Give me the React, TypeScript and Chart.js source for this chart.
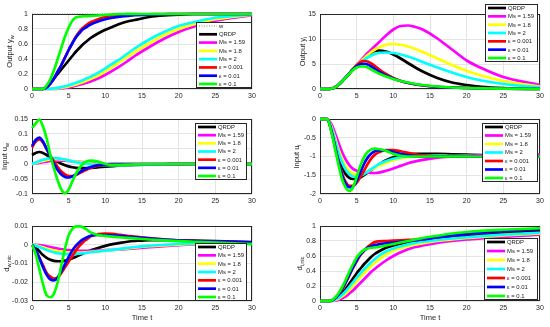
import React, { useEffect, useRef } from "react";
import { Chart, registerables } from "chart.js";

Chart.register(...registerables);

const FONT = "'Liberation Sans', Arial, Helvetica, sans-serif";

// ---------- data ----------
const T = [0, 0.5, 1, 1.5, 2, 2.5, 3, 3.5, 4, 4.5, 5, 5.5, 6, 6.5, 7, 7.5, 8, 9, 10, 11, 12, 13, 14, 16, 18, 20, 22, 25, 30];
const X_TICKS = [0, 5, 10, 15, 20, 25, 30];
const W_T = [0, 30];
const W_REF = [1, 1];

const LABELS = ["QRDP", "Ms = 1.59", "Ms = 1.8", "Ms = 2", "ε = 0.001", "ε = 0.01", "ε = 0.1"];
const COLORS = ["#000000", "#ff00ff", "#ffff00", "#00ffff", "#ff0000", "#0000ff", "#00ff00"];

// Output y_w
const YW_QRDP = [0, 0, 0, 0, 0.03, 0.08, 0.14, 0.2, 0.26, 0.32, 0.38, 0.44, 0.5, 0.55, 0.6, 0.64, 0.68, 0.74, 0.79, 0.83, 0.87, 0.9, 0.92, 0.96, 0.98, 0.99, 1, 1, 1];
const YW_MS159 = [0, 0, 0, 0, 0, 0, 0, 0.003, 0.008, 0.014, 0.022, 0.032, 0.043, 0.056, 0.07, 0.085, 0.1, 0.14, 0.19, 0.245, 0.305, 0.37, 0.44, 0.56, 0.67, 0.76, 0.83, 0.91, 0.985];
const YW_MS18 = [0, 0, 0, 0, 0, 0, 0.003, 0.008, 0.015, 0.024, 0.035, 0.048, 0.062, 0.078, 0.095, 0.115, 0.135, 0.18, 0.235, 0.3, 0.36, 0.43, 0.49, 0.61, 0.72, 0.8, 0.86, 0.93, 0.99];
const YW_MS2 = [0, 0, 0, 0, 0, 0.003, 0.008, 0.015, 0.025, 0.037, 0.05, 0.065, 0.082, 0.1, 0.12, 0.142, 0.165, 0.215, 0.275, 0.34, 0.4, 0.47, 0.54, 0.66, 0.76, 0.84, 0.89, 0.95, 0.995];
const YW_E001 = [0, 0, 0, 0, 0.02, 0.07, 0.14, 0.23, 0.32, 0.42, 0.52, 0.61, 0.7, 0.77, 0.82, 0.86, 0.89, 0.93, 0.96, 0.97, 0.98, 0.985, 0.99, 0.995, 1, 1, 1, 1, 1];
const YW_E01 = [0, 0, 0, 0, 0.02, 0.07, 0.14, 0.23, 0.32, 0.42, 0.52, 0.61, 0.69, 0.75, 0.8, 0.83, 0.86, 0.9, 0.93, 0.95, 0.965, 0.975, 0.985, 0.99, 0.995, 1, 1, 1, 1];
const YW_E1 = [0, 0, 0, 0, 0.05, 0.13, 0.25, 0.4, 0.55, 0.7, 0.82, 0.91, 0.955, 0.965, 0.97, 0.972, 0.975, 0.98, 0.99, 0.995, 1, 1.003, 1.003, 1, 1, 1, 1, 1, 1];

// Output y_i
const YI_QRDP = [0, 0, 0, 0.05, 0.3, 0.8, 1.5, 2.3, 3.1, 4.0, 4.8, 5.5, 6.2, 6.8, 7.3, 7.6, 7.7, 7.5, 6.9, 6.1, 5.2, 4.3, 3.5, 2.2, 1.3, 0.8, 0.45, 0.2, 0.05];
const YI_MS159 = [0, 0, 0, 0.05, 0.3, 0.8, 1.5, 2.3, 3.1, 4.0, 4.8, 5.6, 6.4, 7.2, 7.9, 8.6, 9.3, 10.7, 11.9, 12.6, 12.7, 12.4, 11.9, 10.1, 7.9, 5.7, 4.2, 2.4, 0.8];
const YI_MS18 = [0, 0, 0, 0.05, 0.3, 0.8, 1.5, 2.3, 3.1, 4.0, 4.8, 5.5, 6.1, 6.8, 7.4, 7.9, 8.3, 8.85, 9.0, 8.85, 8.5, 8.0, 7.4, 6.1, 4.8, 3.6, 2.7, 1.6, 0.45];
const YI_MS2 = [0, 0, 0, 0.05, 0.3, 0.8, 1.5, 2.3, 3.1, 3.95, 4.7, 5.3, 5.8, 6.3, 6.7, 7.0, 7.2, 7.3, 7.2, 6.9, 6.5, 6.0, 5.4, 4.3, 3.3, 2.4, 1.7, 1.0, 0.3];
const YI_E001 = [0, 0, 0, 0.05, 0.3, 0.8, 1.5, 2.3, 3.1, 3.95, 4.75, 5.35, 5.6, 5.5, 5.1, 4.6, 4.0, 3.0, 2.2, 1.6, 1.2, 0.9, 0.7, 0.45, 0.3, 0.2, 0.12, 0.06, 0.02];
const YI_E01 = [0, 0, 0, 0.05, 0.3, 0.8, 1.5, 2.3, 3.1, 3.9, 4.55, 4.95, 5.05, 4.9, 4.5, 4.0, 3.5, 2.7, 2.1, 1.6, 1.25, 0.95, 0.75, 0.45, 0.3, 0.2, 0.12, 0.06, 0.02];
const YI_E1 = [0, 0, 0, 0.05, 0.3, 0.8, 1.5, 2.3, 3.05, 3.8, 4.3, 4.5, 4.5, 4.3, 3.9, 3.5, 3.1, 2.5, 2.0, 1.6, 1.3, 1.0, 0.8, 0.5, 0.3, 0.2, 0.12, 0.06, 0.02];

// Input u_w
const UW_QRDP = [0.03, 0.037, 0.04, 0.037, 0.03, 0.022, 0.014, 0.007, 0.001, -0.004, -0.008, -0.011, -0.013, -0.014, -0.014, -0.014, -0.013, -0.011, -0.009, -0.007, -0.005, -0.004, -0.003, -0.002, -0.001, 0, 0, 0, 0];
const UW_MS159 = [0, 0.002, 0.004, 0.006, 0.008, 0.01, 0.011, 0.011, 0.011, 0.011, 0.01, 0.009, 0.008, 0.007, 0.006, 0.005, 0.004, 0.002, 0, -0.001, -0.002, -0.002, -0.002, -0.002, -0.001, -0.001, 0, 0, 0];
const UW_MS18 = [0, 0.003, 0.007, 0.01, 0.013, 0.015, 0.016, 0.016, 0.015, 0.014, 0.012, 0.01, 0.008, 0.006, 0.004, 0.003, 0.001, -0.001, -0.002, -0.003, -0.003, -0.003, -0.002, -0.002, -0.001, 0, 0, 0, 0];
const UW_MS2 = [0, 0.005, 0.01, 0.014, 0.017, 0.019, 0.02, 0.019, 0.017, 0.015, 0.012, 0.009, 0.006, 0.004, 0.002, 0, -0.001, -0.003, -0.004, -0.004, -0.004, -0.003, -0.003, -0.002, -0.001, 0, 0, 0, 0];
const UW_E001 = [0.055, 0.075, 0.082, 0.072, 0.05, 0.028, 0.008, -0.01, -0.025, -0.035, -0.04, -0.04, -0.037, -0.03, -0.024, -0.018, -0.013, -0.006, -0.002, 0, 0, 0, 0, 0, 0, 0, 0, 0, 0];
const UW_E01 = [0.06, 0.08, 0.088, 0.075, 0.05, 0.025, 0, -0.02, -0.035, -0.043, -0.045, -0.042, -0.035, -0.027, -0.02, -0.014, -0.01, -0.004, -0.001, 0, 0, 0, 0, 0, 0, 0, 0, 0, 0];
const UW_E1 = [0.12, 0.135, 0.148, 0.125, 0.085, 0.03, -0.015, -0.055, -0.085, -0.097, -0.085, -0.058, -0.032, -0.012, 0.002, 0.009, 0.011, 0.008, 0, -0.003, -0.003, -0.002, -0.001, 0, 0, 0, 0, 0, 0];

// Input u_i
const UI_QRDP = [0, 0, 0, -0.25, -0.6, -0.98, -1.28, -1.47, -1.57, -1.6, -1.6, -1.56, -1.5, -1.43, -1.36, -1.29, -1.22, -1.1, -1.02, -0.97, -0.94, -0.93, -0.93, -0.93, -0.94, -0.95, -0.96, -0.98, -1];
const UI_MS159 = [0, 0, 0, -0.12, -0.35, -0.62, -0.88, -1.08, -1.23, -1.33, -1.38, -1.41, -1.42, -1.43, -1.44, -1.44, -1.43, -1.38, -1.32, -1.25, -1.18, -1.13, -1.09, -1.03, -1, -0.98, -0.97, -0.96, -0.95];
const UI_MS18 = [0, 0, 0, -0.18, -0.47, -0.8, -1.06, -1.26, -1.39, -1.46, -1.48, -1.47, -1.44, -1.4, -1.35, -1.3, -1.25, -1.17, -1.1, -1.05, -1.02, -1, -0.99, -0.98, -0.99, -0.99, -1, -1, -1];
const UI_MS2 = [0, 0, 0, -0.2, -0.52, -0.88, -1.15, -1.35, -1.47, -1.53, -1.55, -1.52, -1.47, -1.4, -1.33, -1.27, -1.21, -1.12, -1.06, -1.02, -1, -0.99, -0.98, -0.98, -0.99, -0.99, -1, -1, -1];
const UI_E001 = [0, 0, 0, -0.27, -0.68, -1.1, -1.45, -1.68, -1.78, -1.78, -1.7, -1.55, -1.38, -1.2, -1.05, -0.95, -0.89, -0.83, -0.83, -0.86, -0.9, -0.94, -0.97, -1, -1, -1, -1, -1, -1];
const UI_E01 = [0, 0, 0, -0.28, -0.7, -1.12, -1.5, -1.73, -1.82, -1.8, -1.65, -1.42, -1.2, -1.03, -0.92, -0.86, -0.84, -0.84, -0.88, -0.93, -0.97, -0.99, -1, -1, -1, -1, -1, -1, -1];
const UI_E1 = [0, 0, 0, -0.3, -0.75, -1.2, -1.6, -1.83, -1.92, -1.82, -1.55, -1.25, -1.02, -0.88, -0.81, -0.79, -0.8, -0.85, -0.93, -0.98, -1, -1, -1, -1, -1, -1, -1, -1, -1];

// d_w,nic
const DW_QRDP = [0, -0.0015, -0.0035, -0.0055, -0.007, -0.008, -0.0086, -0.0088, -0.0088, -0.0085, -0.008, -0.0072, -0.0064, -0.0055, -0.0046, -0.0038, -0.003, -0.0017, -0.0006, 0.0003, 0.001, 0.0016, 0.002, 0.0025, 0.0025, 0.0024, 0.0022, 0.0019, 0.0014];
const DW_MS159 = [0, 0, -0.0002, -0.0005, -0.0009, -0.0013, -0.0017, -0.0021, -0.0024, -0.0027, -0.0029, -0.003, -0.0031, -0.0032, -0.0032, -0.0032, -0.0032, -0.0031, -0.0029, -0.0027, -0.0025, -0.0022, -0.0019, -0.0013, -0.0007, -0.0002, 0.0002, 0.0005, 0.0009];
const DW_MS18 = [0, -0.0003, -0.0008, -0.0014, -0.002, -0.0026, -0.003, -0.0034, -0.0037, -0.004, -0.0041, -0.0042, -0.0042, -0.0042, -0.0041, -0.004, -0.0038, -0.0035, -0.0031, -0.0027, -0.0023, -0.0019, -0.0015, -0.0008, -0.0003, 0.0001, 0.0004, 0.0007, 0.001];
const DW_MS2 = [0, -0.0005, -0.0012, -0.002, -0.0028, -0.0035, -0.004, -0.0045, -0.0048, -0.005, -0.005, -0.005, -0.0049, -0.0047, -0.0045, -0.0043, -0.004, -0.0036, -0.0032, -0.0027, -0.0022, -0.0017, -0.0012, -0.0005, 0, 0.0004, 0.0007, 0.0009, 0.0011];
const DW_E001 = [0, -0.003, -0.007, -0.011, -0.015, -0.017, -0.018, -0.0175, -0.015, -0.012, -0.009, -0.006, -0.003, -0.0005, 0.0015, 0.003, 0.0045, 0.0057, 0.006, 0.0058, 0.0053, 0.0048, 0.0043, 0.0035, 0.0028, 0.0023, 0.002, 0.0016, 0.0012];
const DW_E01 = [0, -0.003, -0.007, -0.012, -0.016, -0.0185, -0.019, -0.0175, -0.014, -0.0105, -0.0065, -0.003, -0.0005, 0.0015, 0.003, 0.004, 0.0048, 0.0052, 0.0052, 0.005, 0.0047, 0.0044, 0.004, 0.0034, 0.0028, 0.0024, 0.002, 0.0017, 0.0013];
const DW_E1 = [0, -0.005, -0.013, -0.021, -0.027, -0.028, -0.026, -0.02, -0.011, -0.002, 0.005, 0.0085, 0.0098, 0.0098, 0.0092, 0.008, 0.0066, 0.0052, 0.0047, 0.0043, 0.004, 0.0037, 0.0034, 0.0028, 0.0023, 0.0019, 0.0016, 0.0012, 0.0003];

// d_i,nic
const DI_QRDP = [0, 0, 0, 0.002, 0.02, 0.05, 0.1, 0.16, 0.23, 0.3, 0.37, 0.43, 0.49, 0.54, 0.59, 0.63, 0.66, 0.71, 0.74, 0.765, 0.78, 0.795, 0.805, 0.825, 0.845, 0.865, 0.88, 0.905, 0.94];
const DI_MS159 = [0, 0, 0, 0, 0.005, 0.015, 0.035, 0.06, 0.1, 0.14, 0.19, 0.24, 0.29, 0.34, 0.39, 0.43, 0.47, 0.54, 0.6, 0.65, 0.69, 0.72, 0.74, 0.775, 0.8, 0.82, 0.835, 0.855, 0.885];
const DI_MS18 = [0, 0, 0, 0.001, 0.01, 0.03, 0.06, 0.1, 0.15, 0.2, 0.26, 0.32, 0.37, 0.42, 0.47, 0.51, 0.55, 0.62, 0.67, 0.705, 0.73, 0.755, 0.77, 0.8, 0.82, 0.84, 0.855, 0.875, 0.9];
const DI_MS2 = [0, 0, 0, 0.002, 0.015, 0.04, 0.08, 0.13, 0.19, 0.25, 0.31, 0.37, 0.42, 0.47, 0.52, 0.56, 0.6, 0.66, 0.7, 0.73, 0.755, 0.775, 0.79, 0.815, 0.835, 0.85, 0.865, 0.885, 0.91];
const DI_E001 = [0, 0, 0, 0.004, 0.03, 0.08, 0.15, 0.24, 0.34, 0.44, 0.53, 0.61, 0.67, 0.72, 0.76, 0.785, 0.795, 0.8, 0.805, 0.81, 0.815, 0.82, 0.83, 0.85, 0.87, 0.89, 0.91, 0.93, 0.96];
const DI_E01 = [0, 0, 0, 0.004, 0.03, 0.08, 0.16, 0.25, 0.35, 0.45, 0.54, 0.62, 0.67, 0.71, 0.73, 0.745, 0.755, 0.77, 0.78, 0.79, 0.8, 0.81, 0.82, 0.85, 0.87, 0.895, 0.91, 0.935, 0.96];
const DI_E1 = [0, 0, 0, 0.005, 0.04, 0.1, 0.18, 0.28, 0.39, 0.49, 0.58, 0.64, 0.68, 0.7, 0.71, 0.715, 0.72, 0.74, 0.76, 0.78, 0.8, 0.82, 0.84, 0.87, 0.9, 0.92, 0.935, 0.95, 0.97];

// y tick values
const TICKS_YW = [0, 0.2, 0.4, 0.6, 0.8, 1];
const TICKS_YI = [0, 5, 10, 15];
const TICKS_UW = [-0.1, -0.05, 0, 0.05, 0.1, 0.15];
const TICKS_UI = [-2, -1.5, -1, -0.5, 0];
const TICKS_DW = [-0.03, -0.02, -0.01, 0, 0.01];
const TICKS_DI = [0, 0.2, 0.4, 0.6, 0.8, 1];

// ---------- layout ----------
const LEFT_M = 32;
const TOP_M = 12;
const RIGHT_M = 8;

type Rect = { x: number; y: number; w: number; h: number };
type PanelCfg = {
  rect: Rect;
  yMin: number;
  yMax: number;
  yTicks: number[];
  title: [string, string];
  titleX: number;
  series: number[][];
  withRef: boolean;
  legend: Rect;
  xTitle: boolean;
  bottomH: number;
};

const PANELS: PanelCfg[] = [
  { rect: { x: 32, y: 14, w: 220, h: 75 }, yMin: 0, yMax: 1, yTicks: TICKS_YW, title: ["Output y", "w"], titleX: 10,
    series: [YW_QRDP, YW_MS159, YW_MS18, YW_MS2, YW_E001, YW_E01, YW_E1], withRef: true,
    legend: { x: 196, y: 22, w: 56, h: 66 }, xTitle: false, bottomH: 14 },
  { rect: { x: 320, y: 14, w: 220, h: 75 }, yMin: 0, yMax: 15, yTicks: TICKS_YI, title: ["Output y", "i"], titleX: 303,
    series: [YI_QRDP, YI_MS159, YI_MS18, YI_MS2, YI_E001, YI_E01, YI_E1], withRef: false,
    legend: { x: 485, y: 4, w: 53, h: 58 }, xTitle: false, bottomH: 14 },
  { rect: { x: 32, y: 119, w: 220, h: 75 }, yMin: -0.1, yMax: 0.15, yTicks: TICKS_UW, title: ["Input u", "w"], titleX: 5,
    series: [UW_QRDP, UW_MS159, UW_MS18, UW_MS2, UW_E001, UW_E01, UW_E1], withRef: false,
    legend: { x: 195, y: 123, w: 52, h: 57 }, xTitle: false, bottomH: 14 },
  { rect: { x: 320, y: 119, w: 220, h: 75 }, yMin: -2, yMax: 0, yTicks: TICKS_UI, title: ["Input u", "i"], titleX: 297,
    series: [UI_QRDP, UI_MS159, UI_MS18, UI_MS2, UI_E001, UI_E01, UI_E1], withRef: false,
    legend: { x: 482, y: 123, w: 56, h: 59 }, xTitle: false, bottomH: 14 },
  { rect: { x: 32, y: 226, w: 220, h: 75 }, yMin: -0.03, yMax: 0.01, yTicks: TICKS_DW, title: ["d", "w,nic"], titleX: 7,
    series: [DW_QRDP, DW_MS159, DW_MS18, DW_MS2, DW_E001, DW_E01, DW_E1], withRef: false,
    legend: { x: 195, y: 243, w: 52, h: 58 }, xTitle: true, bottomH: 24 },
  { rect: { x: 320, y: 226, w: 220, h: 75 }, yMin: 0, yMax: 1, yTicks: TICKS_DI, title: ["d", "i,nic"], titleX: 300,
    series: [DI_QRDP, DI_MS159, DI_MS18, DI_MS2, DI_E001, DI_E01, DI_E1], withRef: false,
    legend: { x: 484, y: 238, w: 54, h: 62 }, xTitle: true, bottomH: 24 },
];

function fmt(v: number) {
  return String(Math.round(v * 10000) / 10000);
}

function Panel({ cfg }: { cfg: PanelCfg }) {
  const ref = useRef<HTMLCanvasElement>(null);
  const W = cfg.rect.w + LEFT_M + RIGHT_M;
  const H = cfg.rect.h + TOP_M + cfg.bottomH;
  const ox = cfg.rect.x - LEFT_M;
  const oy = cfg.rect.y - TOP_M;

  useEffect(() => {
    const canvas = ref.current;
    if (!canvas) return;
    const n = cfg.series.length;
    const datasets: any[] = cfg.series.map((vals, i) => ({
      label: LABELS[i],
      data: T.map((t, j) => ({ x: t, y: vals[j] })),
      borderColor: COLORS[i],
      backgroundColor: COLORS[i],
      borderWidth: 2.7,
      pointRadius: 0,
      fill: false,
      cubicInterpolationMode: "monotone",
      clip: false,
      order: n - i + 1,
    }));
    const legendItems: { label: string; color: string; width: number; dash: number[] }[] = [];
    if (cfg.withRef) {
      datasets.push({
        label: "w",
        data: W_T.map((t, j) => ({ x: t, y: W_REF[j] })),
        borderColor: "#555555",
        borderWidth: 0.8,
        borderDash: [1, 1.5],
        pointRadius: 0,
        fill: false,
        clip: false,
        order: n + 5,
      });
      legendItems.push({ label: "w", color: "#666666", width: 0.8, dash: [1, 1.5] });
    }
    LABELS.forEach((l, i) => legendItems.push({ label: l, color: COLORS[i], width: 2.7, dash: [] }));

    const framePlugin = {
      id: "frame",
      beforeDatasetsDraw(chart: any) {
        const { ctx, chartArea: ca } = chart;
        ctx.save();
        ctx.strokeStyle = "#262626";
        ctx.lineWidth = 1;
        const l = Math.round(ca.left) + 0.5, t = Math.round(ca.top) + 0.5;
        const r = Math.round(ca.right) - 0.5, b = Math.round(ca.bottom) - 0.5;
        ctx.strokeRect(l, t, r - l, b - t);
        ctx.restore();
      },
    };

    const textPlugin = {
      id: "texts",
      afterDraw(chart: any) {
        const { ctx, chartArea: ca } = chart;
        // y title with subscript
        ctx.save();
        const cx = cfg.titleX - ox;
        const cy = (ca.top + ca.bottom) / 2;
        ctx.translate(cx, cy);
        ctx.rotate(-Math.PI / 2);
        ctx.fillStyle = "#262626";
        const fs = 7.5;
        const ss = 5.5;
        ctx.font = `${fs}px ${FONT}`;
        const mw = ctx.measureText(cfg.title[0]).width;
        ctx.font = `${ss}px ${FONT}`;
        const sw = ctx.measureText(cfg.title[1]).width;
        const start = -(mw + sw) / 2;
        ctx.textBaseline = "middle";
        ctx.textAlign = "left";
        ctx.font = `${fs}px ${FONT}`;
        ctx.fillText(cfg.title[0], start, 0);
        ctx.font = `${ss}px ${FONT}`;
        ctx.fillText(cfg.title[1], start + mw, 2.5);
        ctx.restore();

        if (cfg.xTitle) {
          ctx.save();
          ctx.fillStyle = "#262626";
          ctx.font = `${fs}px ${FONT}`;
          ctx.textAlign = "center";
          ctx.textBaseline = "middle";
          ctx.fillText("Time t", (ca.left + ca.right) / 2, ca.bottom + 17);
          ctx.restore();
        }

        // legend
        const lg = cfg.legend;
        const lx = Math.round(lg.x - ox);
        const ly = Math.round(lg.y - oy);
        ctx.save();
        ctx.fillStyle = "#ffffff";
        ctx.fillRect(lx, ly, lg.w, lg.h);
        ctx.strokeStyle = "#262626";
        ctx.lineWidth = 1;
        ctx.strokeRect(lx + 0.5, ly + 0.5, lg.w - 1, lg.h - 1);
        const pad = 4;
        const step = (lg.h - 2 * pad) / (legendItems.length - 1);
        ctx.font = `5.9px ${FONT}`;
        ctx.textBaseline = "middle";
        ctx.textAlign = "left";
        legendItems.forEach((it, i) => {
          const yy = ly + pad + step * i;
          ctx.strokeStyle = it.color;
          ctx.lineWidth = it.width;
          ctx.setLineDash(it.dash);
          ctx.beginPath();
          ctx.moveTo(lx + 3, yy);
          ctx.lineTo(lx + 21, yy);
          ctx.stroke();
          ctx.setLineDash([]);
          ctx.fillStyle = "#1a1a1a";
          ctx.fillText(it.label, lx + 23, yy + 0.3);
        });
        ctx.restore();
      },
    };

    const chart = new Chart(canvas, {
      type: "line",
      data: { datasets },
      options: {
        animation: false,
        responsive: false,
        devicePixelRatio: 1,
        events: [],
        layout: { padding: { top: TOP_M, right: RIGHT_M, left: 0, bottom: 0 } },
        plugins: { legend: { display: false }, tooltip: { enabled: false } },
        scales: {
          x: {
            type: "linear",
            min: 0,
            max: 30,
            afterBuildTicks: (s: any) => {
              s.ticks = X_TICKS.map((v) => ({ value: v }));
            },
            afterFit: (s: any) => {
              s.height = cfg.bottomH;
            },
            grid: { color: "#e4e4e4", lineWidth: 1, drawTicks: false },
            border: { display: false },
            ticks: {
              font: { family: FONT, size: 7 },
              color: "#262626",
              padding: 3,
              maxRotation: 0,
              callback: (v: any) => fmt(Number(v)),
            },
          },
          y: {
            type: "linear",
            min: cfg.yMin,
            max: cfg.yMax,
            afterBuildTicks: (s: any) => {
              s.ticks = cfg.yTicks.map((v) => ({ value: v }));
            },
            afterFit: (s: any) => {
              s.width = LEFT_M;
            },
            grid: { color: "#e4e4e4", lineWidth: 1, drawTicks: false },
            border: { display: false },
            ticks: {
              font: { family: FONT, size: 7 },
              color: "#262626",
              padding: 4,
              callback: (v: any) => fmt(Number(v)),
            },
          },
        },
      } as any,
      plugins: [framePlugin, textPlugin],
    });
    return () => chart.destroy();
  }, [cfg]);

  return (
    <canvas
      ref={ref}
      width={W}
      height={H}
      style={{ position: "absolute", left: ox, top: oy, width: W, height: H }}
    />
  );
}

export default function App() {
  return (
    <div
      style={{
        position: "absolute",
        left: 0,
        top: 0,
        width: 550,
        height: 327,
        overflow: "hidden",
        background: "#ffffff",
      }}
    >
      {PANELS.map((p, i) => (
        <Panel key={i} cfg={p} />
      ))}
    </div>
  );
}
